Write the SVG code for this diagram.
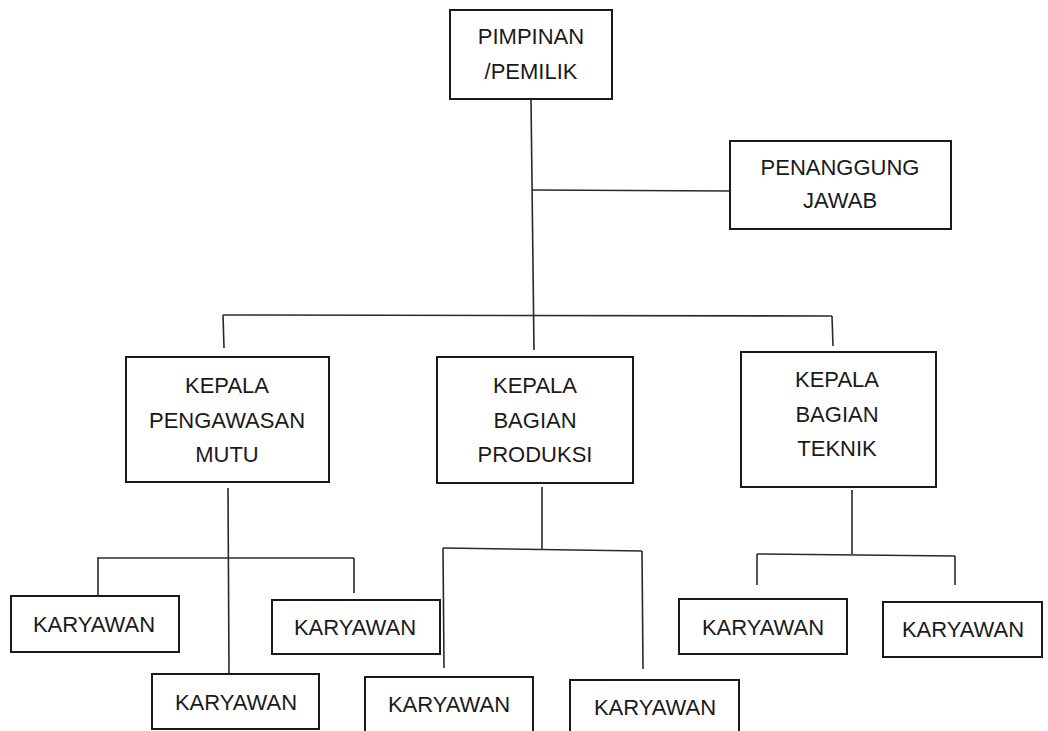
<svg xmlns="http://www.w3.org/2000/svg" width="1048" height="731" viewBox="0 0 1048 731">
<style>
.box{fill:#fff;stroke:#1a1a1a;stroke-width:2}
.ln{fill:none;stroke:#2a2a2a;stroke-width:1.6}
text{font-family:"Liberation Sans",Arial,sans-serif;font-size:22px;fill:#1a1a1a;text-anchor:middle}
</style>
<rect width="1048" height="731" fill="#fff"/>
<g id="connectors">
<path class="ln" d="M531 99 L534 350"/>
<path class="ln" d="M532 190 L731 191"/>
<path class="ln" d="M223 315 L832 316"/>
<path class="ln" d="M223 315 L224 348"/>
<path class="ln" d="M832 316 L833 346"/>
<path class="ln" d="M228 488 L229 673"/>
<path class="ln" d="M97 558 L354 558"/>
<path class="ln" d="M98 558 L98 597"/>
<path class="ln" d="M354 558 L354 593"/>
<path class="ln" d="M542 487 L542 549"/>
<path class="ln" d="M443 548 L642 551"/>
<path class="ln" d="M443 548 L444 668"/>
<path class="ln" d="M642 551 L643 669"/>
<path class="ln" d="M852 490 L852 554"/>
<path class="ln" d="M757 554 L955 556"/>
<path class="ln" d="M757 554 L757 585"/>
<path class="ln" d="M955 556 L955 585"/>
</g>
<g id="pimpinan"><rect class="box" x="450" y="10" width="162" height="89"/><text x="531" y="44">PIMPINAN</text><text x="531" y="79">/PEMILIK</text></g>
<g id="penanggung"><rect class="box" x="730" y="141" width="221" height="88"/><text x="840" y="175">PENANGGUNG</text><text x="840" y="208">JAWAB</text></g>
<g id="kepala-mutu"><rect class="box" x="126" y="357" width="203" height="125"/><text x="227" y="393">KEPALA</text><text x="227" y="428">PENGAWASAN</text><text x="227" y="462">MUTU</text></g>
<g id="kepala-produksi"><rect class="box" x="437" y="357" width="196" height="126"/><text x="535" y="393">KEPALA</text><text x="535" y="428">BAGIAN</text><text x="535" y="462">PRODUKSI</text></g>
<g id="kepala-teknik"><rect class="box" x="741" y="352" width="195" height="135"/><text x="837" y="387">KEPALA</text><text x="837" y="422">BAGIAN</text><text x="837" y="456">TEKNIK</text></g>
<g id="karyawan-1"><rect class="box" x="11" y="596" width="168" height="56"/><text x="94" y="632">KARYAWAN</text></g>
<g id="karyawan-2"><rect class="box" x="272" y="600" width="168" height="54"/><text x="355" y="635">KARYAWAN</text></g>
<g id="karyawan-3"><rect class="box" x="152" y="674" width="167" height="55"/><text x="236" y="710">KARYAWAN</text></g>
<g id="karyawan-4"><rect class="box" x="365" y="677" width="168" height="56"/><text x="449" y="712">KARYAWAN</text></g>
<g id="karyawan-5"><rect class="box" x="570" y="680" width="169" height="55"/><text x="655" y="715">KARYAWAN</text></g>
<g id="karyawan-6"><rect class="box" x="679" y="599" width="168" height="55"/><text x="763" y="635">KARYAWAN</text></g>
<g id="karyawan-7"><rect class="box" x="883" y="602" width="159" height="55"/><text x="963" y="637">KARYAWAN</text></g>
</svg>
